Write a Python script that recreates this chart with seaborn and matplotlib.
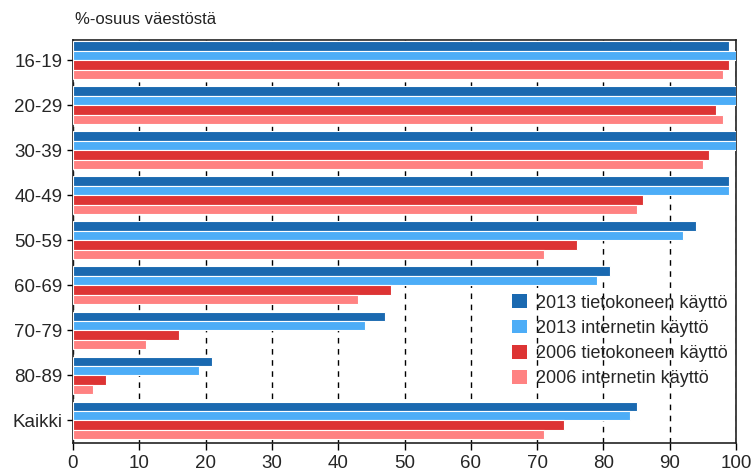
import pandas as pd
import seaborn as sns
import matplotlib.pyplot as plt
from matplotlib.patches import Patch

# age groups and shares (% of population)
groups = ['16-19', '20-29', '30-39', '40-49', '50-59', '60-69', '70-79', '80-89', 'Kaikki']
series = ['2013 tietokoneen käyttö', '2013 internetin käyttö',
          '2006 tietokoneen käyttö', '2006 internetin käyttö']
pc_2013 = [99, 100, 100, 99, 94, 81, 47, 21, 85]
net_2013 = [100, 100, 100, 99, 92, 79, 44, 19, 84]
pc_2006 = [99, 97, 96, 86, 76, 48, 16, 5, 74]
net_2006 = [98, 98, 95, 85, 71, 43, 11, 3, 71]
colors = ['#1a69b0', '#4dadf7', '#dd3434', '#ff8282']

rows = []
for name, vals in zip(series, [pc_2013, net_2013, pc_2006, net_2006]):
    for g, v in zip(groups, vals):
        rows.append({'group': g, 'series': name, 'value': v})
df = pd.DataFrame(rows)

sns.set_style('white')
plt.rcParams['font.family'] = ['Liberation Sans', 'DejaVu Sans']

fig = plt.figure(figsize=(7.52, 4.75), dpi=100)
ax = fig.add_axes([73 / 752, 1 - 443 / 475, 663 / 752, 403 / 475])

sns.barplot(data=df, y='group', x='value', hue='series', order=groups,
            hue_order=series, palette=colors, saturation=1, width=0.84, orient='h',
            edgecolor='white', linewidth=0.8, legend=False, ax=ax, zorder=3)

ax.set_xlim(0, 100)
ax.set_ylim(8.5, -0.45)
ax.set_xticks(range(0, 101, 10))
ax.set_xlabel('')
ax.set_ylabel('')
ax.xaxis.grid(True, color='black', linestyle=(0, (4, 4)), linewidth=1)
ax.set_axisbelow(True)
ax.tick_params(axis='x', bottom=True, length=5, width=1, labelsize=13.5, color='black')
ax.tick_params(axis='y', left=True, length=4, width=1, labelsize=13.5, color='black')
for s in ax.spines.values():
    s.set_color('#222222')
    s.set_linewidth(1.2)

handles = [Patch(facecolor=c, edgecolor='none') for c in colors]
ax.legend(handles, series, loc='lower left', bbox_to_anchor=(0.652, 0.12),
          frameon=False, fontsize=13, handlelength=0.8, handleheight=0.8,
          handletextpad=0.5, labelspacing=0.45, borderaxespad=0)

fig.text(75 / 752, 1 - 20 / 475, '%-osuus väestöstä', fontsize=12,
         color='#222222', va='center', ha='left')

fig.savefig('out.png', dpi=100)
